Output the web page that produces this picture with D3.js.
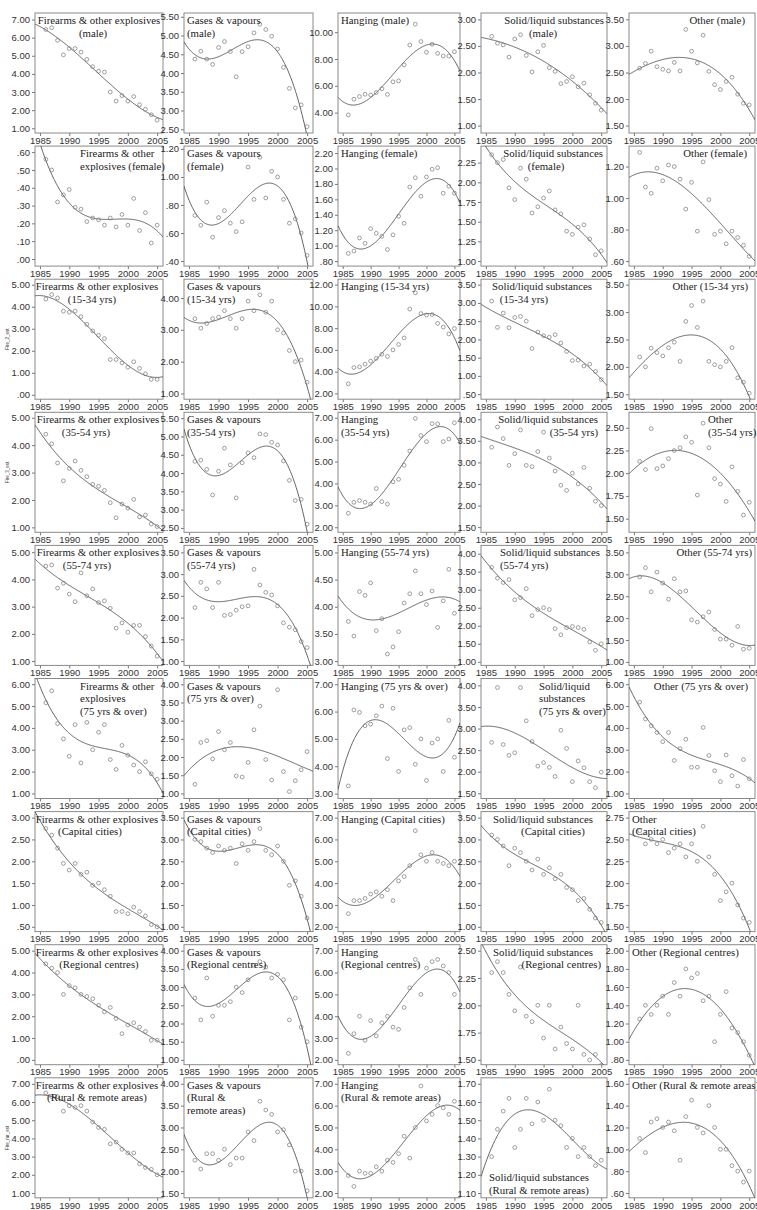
<!DOCTYPE html>
<html><head><meta charset="utf-8">
<script src="https://cdn.jsdelivr.net/npm/d3@7"></script>
<style>body{margin:0;background:#fff}svg{display:block}</style></head>
<body><svg id="c" width="757" height="1210"></svg>
<script>
// ---------------- DATA ----------------
const years = d3.range(1986, 2006);
const xTicks = [1985, 1990, 1995, 2000, 2005];
const methods = ["Firearms & other explosives", "Gases & vapours", "Hanging", "Solid/liquid substances", "Other"];
const groups = ["male", "female", "15-34 yrs", "35-54 yrs", "55-74 yrs", "75 yrs & over", "Capital cities", "Regional centres", "Rural & remote areas"];

// row 1: male
const firearmsMale = [6.45,6.55,5.85,5.05,5.40,5.40,5.20,4.80,4.40,4.15,4.10,3.00,2.50,2.80,2.50,2.75,2.30,2.05,1.75,1.45];
const gasesMale    = [4.37,4.58,4.37,4.23,4.68,4.84,4.57,3.90,4.57,4.70,5.07,5.30,5.16,4.98,4.64,4.15,3.59,3.07,3.15,2.57];
const hangingMale  = [3.83,5.00,5.20,5.37,5.32,5.50,5.78,5.36,6.30,6.37,7.56,9.04,10.6,9.30,8.50,9.10,8.42,8.22,8.22,8.54];
const solidMale    = [2.68,2.55,2.52,2.29,2.63,2.71,2.32,2.01,2.39,2.51,2.09,2.02,1.79,1.83,1.92,1.73,1.80,1.58,1.42,1.29];
const otherMale    = [2.58,2.67,2.90,2.61,2.56,2.53,2.69,2.53,3.31,2.90,2.68,3.20,2.52,2.27,2.18,2.33,2.41,2.09,1.92,1.89];
// row 2: female
const firearmsFemale = [.56,.50,.32,.36,.39,.29,.28,.21,.23,.22,.19,.23,.18,.25,.19,.34,.16,.26,.09,.19];
const gasesFemale    = [.725,.655,.82,.57,.71,.76,.67,.61,.68,1.07,.84,1.14,.85,1.04,1.00,.84,.67,.70,.60,.44];
const hangingFemale  = [.90,.93,1.10,1.03,1.22,1.16,1.12,.95,1.14,1.38,1.29,1.76,1.88,1.64,1.89,1.99,2.01,1.68,1.77,1.68];
const solidFemale    = [2.35,2.25,2.29,1.93,1.78,2.18,2.04,1.61,1.69,1.80,1.89,1.65,1.60,1.38,1.34,1.43,1.46,1.28,1.08,1.13];
const otherFemale    = [1.29,1.07,1.03,1.19,1.11,1.21,1.20,1.12,.93,1.10,.79,1.23,.99,.77,.79,.71,.79,.75,.70,.63];
// row 3: 15-34 yrs
const firearms1534 = [4.35,4.55,4.40,3.80,3.75,3.80,3.55,3.20,2.90,2.70,2.55,1.60,1.60,1.45,1.25,1.50,1.20,.95,.70,.70];
const gases1534    = [3.35,3.05,3.20,3.35,3.40,3.60,3.35,3.05,3.35,3.90,3.60,4.10,3.55,3.90,3.00,2.90,2.35,2.00,2.05,1.35];
const hanging1534  = [2.88,4.38,4.44,4.69,4.97,5.22,5.60,5.40,6.00,6.50,7.10,9.75,11.25,9.34,9.20,9.25,8.44,8.10,7.47,7.97];
const solid1534    = [3.05,2.33,2.72,2.32,2.60,2.63,2.50,1.75,2.20,2.10,2.06,2.13,1.90,1.67,1.42,1.43,1.27,1.32,1.12,.90];
const other1534    = [2.18,2.00,2.34,2.26,2.20,2.35,2.45,2.10,2.83,3.12,2.72,3.20,2.10,2.04,2.00,2.10,2.35,1.80,1.72,1.52];
// row 4: 35-54 yrs
const firearms3554 = [4.40,4.05,3.35,2.70,3.15,3.42,3.08,2.85,2.57,2.50,2.35,1.90,1.35,1.85,1.70,2.02,1.38,1.45,1.12,1.03];
const gases3554    = [4.32,4.35,4.10,3.40,4.05,4.68,4.22,3.32,4.28,4.55,4.42,5.07,5.05,4.84,4.77,4.33,3.80,3.25,3.28,2.60];
const hanging3554  = [2.64,3.14,3.22,3.14,3.06,3.77,3.17,3.06,4.08,4.19,4.83,5.48,6.97,6.19,5.91,6.73,6.72,5.91,6.03,6.77];
const solid3554    = [3.35,3.82,3.55,2.93,3.20,3.75,2.93,2.90,3.25,3.70,3.10,2.80,2.47,2.35,2.75,2.50,2.88,2.40,2.10,2.00];
const other3554    = [2.13,2.04,2.49,2.05,2.08,2.16,2.25,2.28,2.40,2.34,1.76,2.55,2.28,1.94,1.88,1.69,2.07,1.80,1.54,1.68];
// row 5: 55-74 yrs
const firearms5574 = [4.49,4.53,3.68,3.86,3.46,3.18,4.24,3.40,3.65,3.15,3.21,2.94,2.21,2.40,2.06,2.31,2.31,1.90,1.55,1.18];
const gases5574    = [2.23,2.81,2.66,2.23,2.81,2.05,2.07,2.17,2.25,2.27,3.11,2.75,2.58,2.52,2.27,1.88,1.78,1.72,1.45,1.31];
const hanging5574  = [3.73,3.46,4.28,4.21,4.44,3.56,3.78,3.13,3.26,3.54,4.07,4.24,4.66,4.24,4.04,4.29,3.62,4.11,4.69,3.88];
const solid5574    = [3.62,3.32,3.20,3.28,2.72,2.78,3.03,2.28,2.45,2.50,2.45,1.92,1.75,1.95,1.98,1.95,1.90,1.55,1.32,1.50];
const other5574    = [2.94,3.15,2.60,3.05,2.80,2.43,2.90,2.60,2.62,1.96,1.91,2.03,2.14,1.74,1.52,1.52,1.38,1.81,1.29,1.31];
// row 6: 75 yrs & over
const firearms75 = [5.15,5.70,4.20,3.50,2.70,4.15,2.40,4.25,3.00,3.80,4.15,2.55,2.10,3.20,2.75,2.30,2.00,2.45,1.90,1.65];
const gases75    = [1.25,2.40,2.45,1.95,2.70,2.20,2.40,1.48,1.45,1.85,2.75,3.40,1.93,1.37,3.85,1.60,1.05,1.35,1.65,2.15];
const hanging75  = [3.28,6.06,5.97,5.48,5.54,5.85,6.20,4.28,6.12,3.81,5.33,5.41,4.07,5.00,3.48,4.85,5.00,3.81,5.68,4.33];
const solid75    = [2.68,3.95,2.63,2.38,2.44,3.95,3.18,2.70,2.13,2.21,2.10,1.89,2.96,2.54,1.77,2.25,2.09,1.77,1.63,1.99];
const other75    = [5.18,4.41,4.10,3.79,3.37,3.79,2.51,3.05,3.48,2.20,2.20,4.02,2.74,2.04,1.54,2.76,1.81,1.34,2.55,1.67];
// row 7: capital cities
const firearmsCap = [2.75,2.60,2.30,1.95,1.80,1.95,1.70,1.75,1.45,1.50,1.35,1.20,.85,.85,.80,.95,.85,.75,.55,.50];
const gasesCap    = [3.00,2.95,2.80,2.70,2.85,2.75,2.80,2.45,2.90,2.75,2.95,3.25,2.75,2.65,2.85,2.50,1.95,2.05,1.70,1.20];
const hangingCap  = [2.60,3.20,3.20,3.30,3.50,3.60,3.40,3.70,3.20,4.10,4.30,4.80,6.40,5.30,5.00,5.40,5.00,4.90,4.80,5.00];
const solidCap    = [3.10,3.00,2.85,2.40,2.80,2.70,2.50,2.30,2.55,2.20,2.35,2.10,2.20,1.90,1.85,1.60,1.65,1.40,1.20,1.10];
const otherCap    = [2.60,2.45,2.50,2.45,2.50,2.35,2.40,2.45,2.30,2.45,2.25,2.65,2.30,2.10,1.80,1.90,2.00,1.75,1.60,1.55];
// row 8: regional centres
const firearmsReg = [4.40,4.20,4.00,3.00,3.40,3.30,3.00,2.90,2.80,2.50,2.20,2.40,1.90,1.20,1.60,1.70,1.50,1.30,.90,.90];
const gasesReg    = [2.70,2.10,3.25,2.20,2.50,2.50,2.60,3.00,2.85,3.20,3.60,3.70,3.55,3.25,3.35,3.20,2.10,2.70,1.90,1.50];
const hangingReg  = [2.30,3.20,4.00,2.90,3.80,3.10,3.70,4.00,3.50,3.40,4.40,5.30,6.60,5.00,6.20,6.50,6.60,6.30,6.00,5.00];
const solidReg    = [2.30,2.40,2.30,2.10,1.95,2.35,1.90,1.85,2.00,1.70,2.00,1.60,1.80,1.65,1.60,2.00,1.55,1.50,1.55,1.45];
const otherReg    = [1.25,1.40,1.30,1.40,1.50,1.30,1.65,1.50,1.80,1.70,1.75,1.45,1.50,1.00,1.30,1.55,1.15,1.10,1.00,.85];
// row 9: rural & remote areas
const firearmsRur = [6.50,6.30,6.30,5.50,5.80,5.70,5.80,5.50,4.90,4.60,4.50,3.70,3.80,3.40,3.20,3.20,2.60,2.40,2.30,2.00];
const gasesRur    = [2.25,2.05,2.40,2.40,2.25,2.50,2.15,2.30,2.30,2.90,2.70,3.60,3.40,3.30,2.90,2.95,2.60,2.00,2.00,1.55];
const hangingRur  = [2.80,2.30,3.00,2.90,2.90,3.20,3.00,3.50,3.40,3.80,4.60,3.60,5.00,6.90,5.30,5.60,6.00,5.90,5.60,6.20];
const solidRur    = [1.30,1.45,1.55,1.62,1.35,1.45,1.62,1.48,1.60,1.50,1.67,1.50,1.47,1.35,1.40,1.30,1.35,1.30,1.25,1.28];
const otherRur    = [1.10,.97,1.25,1.28,1.20,1.25,1.17,.90,1.30,1.45,1.20,1.15,1.40,1.20,1.00,1.00,.85,.80,.70,.80];

const series = [
  [firearmsMale, gasesMale, hangingMale, solidMale, otherMale],
  [firearmsFemale, gasesFemale, hangingFemale, solidFemale, otherFemale],
  [firearms1534, gases1534, hanging1534, solid1534, other1534],
  [firearms3554, gases3554, hanging3554, solid3554, other3554],
  [firearms5574, gases5574, hanging5574, solid5574, other5574],
  [firearms75, gases75, hanging75, solid75, other75],
  [firearmsCap, gasesCap, hangingCap, solidCap, otherCap],
  [firearmsReg, gasesReg, hangingReg, solidReg, otherReg],
  [firearmsRur, gasesRur, hangingRur, solidRur, otherRur]
];

// y tick labels per panel: [first, last, step]
const yTickSpec = [
  [[1,7,1],[2.5,5.5,.5],[4,10,2],[1,3,.5],[1.5,3.5,.5]],
  [[0,.6,.1],[.4,1.2,.2],[.8,2.2,.2],[1,2.25,.25],[.6,1.2,.2]],
  [[0,5,1],[1,4,1],[2,12,2],[.5,3.5,.5],[1.5,3.5,.5]],
  [[1,5,1],[2.5,5.5,.5],[2,7,1],[1.5,4,.5],[1.5,2.5,.25]],
  [[1,5,1],[1,3.5,.5],[3,5,.5],[1,4,.5],[1,3.5,.5]],
  [[1,6,1],[1,4,.5],[3,7,1],[1.5,4,.5],[1,6,1]],
  [[.5,3,.5],[1,3.5,.5],[2,7,1],[1,3.5,.5],[1.5,2.75,.25]],
  [[0,5,1],[1,4,.5],[2,7,1],[1.5,2.5,.25],[.8,2,.2]],
  [[1,7,1],[1.5,4,.5],[2,7,1],[1.1,1.7,.1],[.6,1.6,.2]]
];
// y-axis extent per panel (value at bottom, value at top)
const yExtent = [
  [[0.74,7.36],[2.40,5.60],[2.48,11.43],[0.86,3.12],[1.36,3.62]],
  [[-0.04,0.634],[0.364,1.22],[0.735,2.29],[0.936,2.46],[0.568,1.33]],
  [[-0.2,5.25],[0.82,4.59],[1.47,12.5],[0.36,3.65],[1.41,3.6]],
  [[0.82,5.2],[2.38,5.66],[1.77,7.25],[1.38,4.16],[1.35,2.67]],
  [[0.84,5.25],[0.9,3.66],[2.92,5.13],[0.9,4.23],[0.92,3.66]],
  [[0.77,6.26],[0.86,4.16],[2.82,7.21],[1.38,4.16],[0.77,6.26]],
  [null,null,null,null,null],
  [null,null,null,null,null],
  [null,null,null,null,null]
];
// small rotated variable names beside some first-column axes
const axisNames = [[2, "Fire_2_est"], [3, "Fire_3_est"], [8, "Fire_rur_est"]];

// ---------------- LAYOUT ----------------
const colL = [35, 184, 338, 481, 629];
const colR = [163, 313, 460, 607, 755];
const rowTop = r => 13 + 133.1 * r;
const rowBot = r => 133 + 133.1 * r;
const xDomain = [1984.15, 2006.0];

// title lines: [text, anchor, offset]; offset from left edge (start/middle) or right edge (end)
const titles = [
  [[["Firearms & other explosives","middle",64],["(male)","middle",58]],
   [["Gases & vapours","start",3],["(male)","start",3]],
   [["Hanging (male)","start",3]],
   [["Solid/liquid substances","end",-3],["(male)","middle",62]],
   [["Other (male)","end",-10]]],
  [[["Firearms & other","start",45],["explosives (female)","start",45]],
   [["Gases & vapours","start",3],["(female)","start",3]],
   [["Hanging (female)","start",3]],
   [["Solid/liquid substances","end",-4],["(female)","middle",65]],
   [["Other (female)","end",-8]]],
  [[["Firearms & other explosives","middle",62],["(15-34 yrs)","middle",57]],
   [["Gases & vapours","start",3],["(15-34 yrs)","start",3]],
   [["Hanging (15-34 yrs)","start",3]],
   [["Solid/liquid substances","middle",61],["(15-34 yrs)","middle",43]],
   [["Other (15-34 yrs)","end",-7]]],
  [[["Firearms & other explosives","middle",63],["(35-54 yrs)","middle",51]],
   [["Gases & vapours","start",3],["(35-54 yrs)","start",3]],
   [["Hanging","start",3],["(35-54 yrs)","start",3]],
   [["Solid/liquid substances","end",-9],["(35-54 yrs)","end",-9]],
   [["Other","start",79],["(35-54 yrs)","start",79]]],
  [[["Firearms & other explosives","middle",63],["(55-74 yrs)","middle",52]],
   [["Gases & vapours","start",3],["(55-74 yrs)","start",3]],
   [["Hanging (55-74 yrs)","start",3]],
   [["Solid/liquid substances","start",19],["(55-74 yrs)","start",19]],
   [["Other (55-74 yrs)","end",-3]]],
  [[["Firearms & other","start",45],["explosives","start",45],["(75 yrs & over)","start",45]],
   [["Gases & vapours","start",3],["(75 yrs & over)","start",3]],
   [["Hanging (75 yrs & over)","start",3]],
   [["Solid/liquid","start",58],["substances","start",58],["(75 yrs & over)","start",58]],
   [["Other (75 yrs & over)","end",-7]]],
  [[["Firearms & other explosives","middle",62],["(Capital cities)","middle",55]],
   [["Gases & vapours","start",3],["(Capital cities)","start",3]],
   [["Hanging (Capital cities)","start",3]],
   [["Solid/liquid substances","middle",62],["(Capital cities)","middle",72]],
   [["Other","start",3],["(Capital cities)","start",3]]],
  [[["Firearms & other explosives","middle",62],["(Regional centres)","middle",64]],
   [["Gases & vapours","start",3],["(Regional centres)","start",3]],
   [["Hanging","start",3],["(Regional centres)","start",3]],
   [["Solid/liquid substances","middle",62],["(Regional centres)","end",-6]],
   [["Other (Regional centres)","start",3]]],
  [[["Firearms & other explosives","middle",62],["(Rural & remote areas)","middle",62]],
   [["Gases & vapours","start",3],["(Rural &","start",3],["remote areas)","start",3]],
   [["Hanging","start",3],["(Rural & remote areas)","start",3]],
   [["Solid/liquid substances","start",8],["(Rural & remote areas)","start",8]],
   [["Other (Rural & remote areas)","start",3]]]
];
const bottomTitle = {"8-3": true};

// ---------------- HELPERS ----------------
const fmt2 = d3.format(".2f");
const tickFmt = v => { const s = fmt2(Math.abs(v) < 1e-9 ? 0 : v); return s.replace(/^0\./, ".").replace(/^-0\./, "-."); };

function cubicFit(xs, ys) {
  const m = d3.mean(xs);
  const n = 4, A = [], b = [];
  for (let i = 0; i < n; i++) { A.push(new Array(n).fill(0)); b.push(0); }
  xs.forEach((x0, k) => {
    const x = x0 - m;
    const p = [1, x, x * x, x * x * x];
    for (let i = 0; i < n; i++) {
      b[i] += p[i] * ys[k];
      for (let j = 0; j < n; j++) A[i][j] += p[i] * p[j];
    }
  });
  for (let i = 0; i < n; i++) {
    let piv = i;
    for (let r = i + 1; r < n; r++) if (Math.abs(A[r][i]) > Math.abs(A[piv][i])) piv = r;
    [A[i], A[piv]] = [A[piv], A[i]]; [b[i], b[piv]] = [b[piv], b[i]];
    for (let r = i + 1; r < n; r++) {
      const f = A[r][i] / A[i][i];
      for (let c = i; c < n; c++) A[r][c] -= f * A[i][c];
      b[r] -= f * b[i];
    }
  }
  const c = new Array(n).fill(0);
  for (let i = n - 1; i >= 0; i--) {
    let s = b[i];
    for (let j = i + 1; j < n; j++) s -= A[i][j] * c[j];
    c[i] = s / A[i][i];
  }
  return x0 => { const x = x0 - m; return c[0] + c[1] * x + c[2] * x * x + c[3] * x * x * x; };
}

// ---------------- DRAW ----------------
const svg = d3.select("#c");
svg.append("rect").attr("width", 757).attr("height", 1210).attr("fill", "#fff");
const defs = svg.append("defs");

series.forEach((rowSeries, r) => {
  rowSeries.forEach((vals, c) => {
    const L = colL[c], R = colR[c], T = rowTop(r), B = rowBot(r);
    const [t0, t1, st] = yTickSpec[r][c];
    const tv = d3.range(t0, t1 + st / 2, st).map(v => +v.toFixed(4));
    let ext = yExtent[r][c];
    if (!ext) {
      const span = (t1 - t0) / 0.91;
      ext = [t0 - 0.04 * span, t1 + 0.05 * span];
    }
    const x = d3.scaleLinear().domain(xDomain).range([L, R]);
    const y = d3.scaleLinear().domain(ext).range([B, T]);
    const g = svg.append("g");
    const id = `clip${r}_${c}`;
    defs.append("clipPath").attr("id", id).append("rect")
      .attr("x", L).attr("y", T).attr("width", R - L).attr("height", B - T);

    const ya = g.append("g").attr("transform", `translate(${L},0)`)
      .call(d3.axisLeft(y).tickValues(tv).tickSize(3).tickPadding(2).tickFormat(tickFmt));
    const xa = g.append("g").attr("transform", `translate(0,${B})`)
      .call(d3.axisBottom(x).tickValues(xTicks).tickSize(3).tickPadding(1).tickFormat(d3.format("d")));
    [ya, xa].forEach(a => {
      a.select(".domain").remove();
      a.selectAll("line").attr("stroke", "#777");
      a.selectAll("text").attr("fill", "#333").style("font-family", "'Liberation Sans', Arial, sans-serif").style("font-size", "9.5px");
    });

    g.append("rect").attr("x", L).attr("y", T).attr("width", R - L).attr("height", B - T)
      .attr("fill", "none").attr("stroke", "#8a8a8a").attr("stroke-width", 1);

    const f = cubicFit(years, vals);
    const xsCurve = d3.range(0, 201).map(i => xDomain[0] + (xDomain[1] - xDomain[0]) * i / 200);
    g.append("path").attr("clip-path", `url(#${id})`)
      .attr("d", d3.line().x(d => x(d)).y(d => y(f(d)))(xsCurve))
      .attr("fill", "none").attr("stroke", "#505050").attr("stroke-width", 0.9);

    g.append("g").attr("clip-path", `url(#${id})`).selectAll("circle").data(vals).join("circle")
      .attr("cx", (d, i) => x(years[i])).attr("cy", d => y(d)).attr("r", 1.9)
      .attr("fill", "none").attr("stroke", "#777").attr("stroke-width", 0.7);

    const lines = titles[r][c];
    const atBottom = bottomTitle[`${r}-${c}`];
    lines.forEach((ln, i) => {
      const [txt, anchor, off] = ln;
      const tx = anchor === "end" ? R + off : L + off;
      const ty = atBottom ? B - 4 - (lines.length - 1 - i) * 12.5 : T + 11 + i * 12.5;
      g.append("text").attr("x", tx).attr("y", ty).attr("text-anchor", anchor)
        .style("font-family", "'Liberation Serif', 'Times New Roman', serif").style("font-size", "10.8px")
        .attr("fill", "#222").text(txt);
    });
  });
});

axisNames.forEach(([r, name]) => {
  const cy = (rowTop(r) + rowBot(r)) / 2;
  svg.append("text").attr("transform", `translate(9,${cy}) rotate(-90)`)
    .attr("text-anchor", "middle").style("font-family", "'Liberation Sans', Arial, sans-serif")
    .style("font-size", "4.5px").attr("fill", "#333").text(name);
});
</script></body></html>
